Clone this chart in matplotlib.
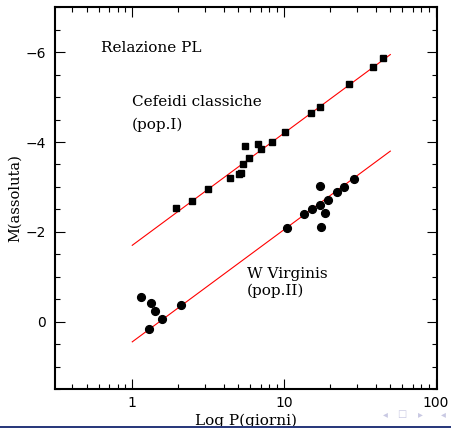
import numpy as np
import matplotlib
matplotlib.use("Agg")
import matplotlib.pyplot as plt
from matplotlib.ticker import FixedLocator, FuncFormatter, MultipleLocator
from matplotlib.patches import Rectangle

# Classical Cepheids (population I): period in days, absolute magnitude
cef_period = [1.94, 2.47, 3.13, 4.41, 5.08, 5.21, 5.35, 5.54, 5.91, 6.71,
              7.09, 8.38, 10.1, 15.0, 17.1, 26.9, 38.7, 45.0]
cef_mag = [-2.52, -2.68, -2.95, -3.20, -3.29, -3.32, -3.52, -3.91, -3.64, -3.95,
           -3.84, -4.01, -4.22, -4.65, -4.77, -5.29, -5.67, -5.88]

# W Virginis stars (population II)
wvir_period = [1.14, 1.29, 1.33, 1.42, 1.57, 2.10, 10.4, 13.6, 15.3, 17.3,
               17.3, 17.6, 18.7, 19.3, 22.3, 24.9, 28.7]
wvir_mag = [-0.55, 0.16, -0.41, -0.24, -0.05, -0.37, -2.09, -2.39, -2.51, -2.60,
            -3.02, -2.10, -2.43, -2.70, -2.89, -3.00, -3.18]

# Period-luminosity relations: M = slope * log10(P) + intercept
pl_slope = -2.50
cef_intercept = -1.70
wvir_intercept = 0.45
pl_period_range = [1.0, 50.0]

x_major = [1, 10, 100]
x_minor = [0.4, 0.5, 0.6, 0.7, 0.8, 0.9, 2, 3, 4, 5, 6, 7, 8, 9,
           20, 30, 40, 50, 60, 70, 80, 90]

W, H = 451, 428
fig = plt.figure(figsize=(W / 100, H / 100), dpi=100)
ax = fig.add_axes([55 / W, (H - 389) / H, (436.7 - 55) / W, (389 - 7.3) / H])

ax.set_xscale("log")
ax.set_xlim(0.31, 101)
ax.set_ylim(1.5, -7.0)

# fitted relations
p_line = np.array(pl_period_range)
ax.plot(p_line, pl_slope * np.log10(p_line) + cef_intercept, color="#ff0000", lw=0.8)
ax.plot(p_line, pl_slope * np.log10(p_line) + wvir_intercept, color="#ff0000", lw=0.8)

ax.plot(cef_period, cef_mag, ls="none", marker="s", ms=4.6, color="black", mec="black")
ax.plot(wvir_period, wvir_mag, ls="none", marker="o", ms=5.6, color="black", mec="black")

serif = "DejaVu Serif"
txt_kw = dict(family=serif, fontsize=11, ha="left", va="center", color="black")
ax.text(0.625, -6.10, "Relazione PL", **txt_kw)
ax.text(0.995, -4.90, "Cefeidi classiche", **txt_kw)
ax.text(0.995, -4.38, "(pop.I)", **txt_kw)
ax.text(5.68, -1.07, "W Virginis", **txt_kw)
ax.text(5.68, -0.68, "(pop.II)", **txt_kw)

# axes styling
for sp in ax.spines.values():
    sp.set_linewidth(1.5)

ax.xaxis.set_major_locator(FixedLocator(x_major))
ax.xaxis.set_minor_locator(FixedLocator(x_minor))
ax.xaxis.set_major_formatter(FuncFormatter(lambda v, pos: f"{v:g}"))
ax.xaxis.set_minor_formatter(FuncFormatter(lambda v, pos: ""))
ax.yaxis.set_major_locator(MultipleLocator(2))
ax.yaxis.set_minor_locator(MultipleLocator(0.5))

ax.tick_params(which="both", direction="in", top=True, right=True, width=0.8,
               labelsize=10, labelfontfamily="DejaVu Sans")
ax.tick_params(which="major", length=7.2)
ax.tick_params(which="minor", length=3.6)
ax.tick_params(axis="x", pad=5)
ax.tick_params(axis="y", pad=6.5)

fig.text(245.9 / W, 2.5 / H, "Log P(giorni)", family=serif, fontsize=11,
         ha="center", va="baseline")
fig.text(15 / W, 1 - 198 / H, "M(assoluta)", family=serif, fontsize=10.5,
         ha="center", va="center", rotation=90)

# slide navigation bar
nav_color = "#c9c9e3"
for xp, sym in [(385, "\u25c2"), (402, "\u25a1"), (420, "\u25b8"), (443, "\u25c2")]:
    fig.text(xp / W, 1 - 414 / H, sym, family="DejaVu Sans", fontsize=7,
             color=nav_color, ha="center", va="center")
fig.add_artist(Rectangle((0, 0), 1, 2.2 / H, transform=fig.transFigure,
                         color="#2a3a7c", lw=0, zorder=10))

fig.savefig("out.png", dpi=100)
